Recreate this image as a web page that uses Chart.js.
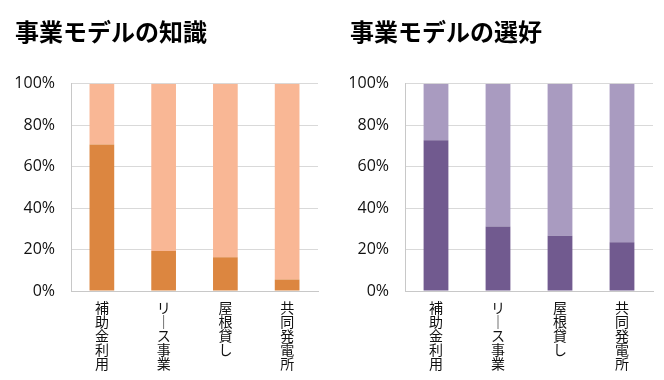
<!DOCTYPE html>
<html>
<head>
<meta charset="utf-8">
<script src="https://cdn.jsdelivr.net/npm/chart.js@4.4.1/dist/chart.umd.min.js"></script>
<style>
  html, body { margin: 0; padding: 0; background: #ffffff; }
  #wrap { position: relative; width: 664px; height: 380px; }
  canvas { position: absolute; top: 0; }
</style>
</head>
<body>
<div id="wrap">
  <canvas id="c1" width="332" height="380" style="left:0px"></canvas>
  <canvas id="c2" width="332" height="380" style="left:332px"></canvas>
</div>
<script>
// ---- data ----
const categories = ["補助金利用", "リース事業", "屋根貸し", "共同発電所"];
const titleLeft = "事業モデルの知識";
const titleRight = "事業モデルの選好";
const knowYes = [70.7, 19.3, 16.3, 5.6];
const knowNo  = [29.3, 80.7, 83.7, 94.4];
const prefYes = [72.8, 31.1, 26.7, 23.5];
const prefNo  = [27.2, 68.9, 73.3, 76.5];
const yTicks  = [0, 20, 40, 60, 80, 100];

function verticalLabel(s) {
  return Array.from(s).map(ch => ch === "ー" ? "｜" : ch);
}

function makeChart(id, title, dark, light, colDark, colLight, padLeft, padRight, yWidth) {
  return new Chart(document.getElementById(id), {
    type: 'bar',
    data: {
      labels: categories,
      datasets: [
        { data: dark, backgroundColor: colDark, borderWidth: 0 },
        { data: light, backgroundColor: colLight, borderWidth: 0 }
      ]
    },
    options: {
      responsive: false,
      animation: false,
      devicePixelRatio: 1,
      layout: { padding: { left: padLeft, right: padRight, top: 0, bottom: 0 } },
      datasets: { bar: { categoryPercentage: 1.0, barPercentage: 0.4 } },
      plugins: {
        legend: { display: false },
        tooltip: { enabled: false },
        title: {
          display: true,
          text: title,
          align: 'start',
          color: '#000000',
          font: { family: '"Noto Sans CJK JP", sans-serif', size: 24, weight: 'bold', lineHeight: 1.2 },
          padding: { top: 17, bottom: 38 }
        }
      },
      scales: {
        x: {
          stacked: true,
          grid: { display: false, drawTicks: false },
          border: { display: true, color: '#c8c8c8', width: 1 },
          ticks: {
            color: '#111111',
            padding: 10,
            maxRotation: 0,
            minRotation: 0,
            autoSkip: false,
            font: { family: '"Noto Sans CJK JP", sans-serif', size: 14, lineHeight: 1.0 },
            callback: function (v, i) { return verticalLabel(categories[i]); }
          },
          afterFit: function (s) { s.height = 89; }
        },
        y: {
          stacked: true,
          min: 0,
          max: 100,
          afterBuildTicks: function (s) { s.ticks = yTicks.map(v => ({ value: v })); },
          grid: { color: '#d9d9d9', lineWidth: 1, drawTicks: false },
          border: { display: true, color: '#c8c8c8', width: 1 },
          ticks: {
            color: '#111111',
            padding: 16,
            font: { family: '"Open Sans", sans-serif', size: 16 },
            callback: function (v) { return v + '%'; }
          },
          afterFit: function (s) { s.width = yWidth; }
        }
      }
    }
  });
}

makeChart('c1', titleLeft, knowYes, knowNo, '#dc8640', '#f9b795', 15, 14, 56);
makeChart('c2', titleRight, prefYes, prefNo, '#715a8f', '#a99bc0', 18, 11, 55);
</script>
</body>
</html>
